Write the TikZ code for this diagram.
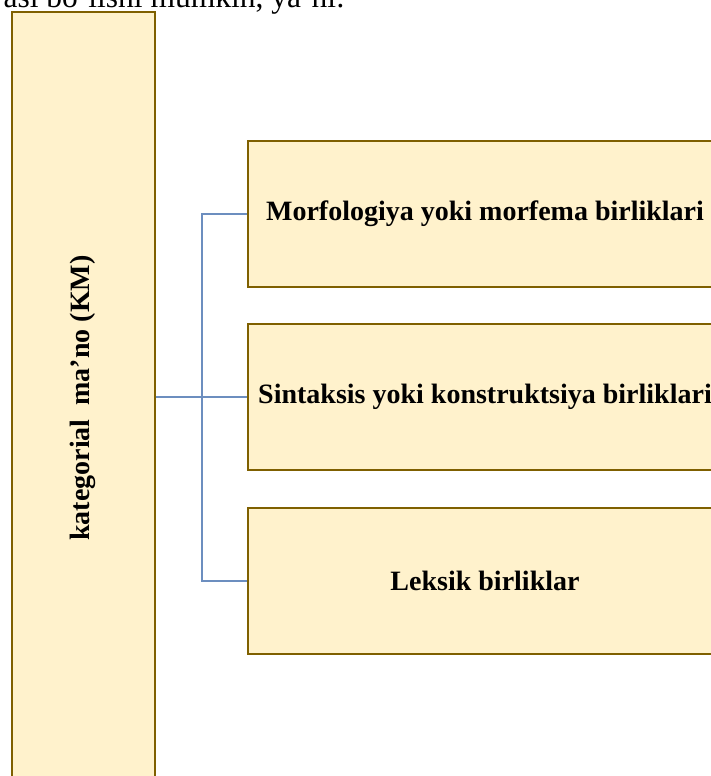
\documentclass[tikz,border=0pt]{standalone}
\usepackage{fontspec}
\setmainfont{Liberation Serif}

\definecolor{boxfill}{HTML}{FFF2CC}
\definecolor{boxline}{HTML}{7F6000}
\definecolor{linkline}{HTML}{6C8EBF}

\begin{document}
\begin{tikzpicture}[x=1pt,y=-1pt]
\tikzstyle{box}=[draw=boxline,fill=boxfill,line width=2pt,inner sep=0pt];
\tikzstyle{unit}=[box,minimum width=474pt,minimum height=146pt,font=\fontsize{28}{33}\selectfont\bfseries];
\tikzstyle{link}=[draw=linkline,line width=2pt];
\useasboundingbox (0,0) rectangle (711,776);
\clip (0,0) rectangle (711,776);

\path (345,8) node[anchor=base east,inner sep=0pt,font=\fontsize{31.5}{36}\selectfont] (intro) {asi bo‘lishi mumkin, ya’ni:};

\path (83,398) node[box,minimum width=143pt,minimum height=772pt] (km) {};
\path (83,398) node[rotate=90,inner sep=0pt,font=\fontsize{28}{33}\selectfont\bfseries] (kmtext) {kategorial\ \ ma’no (KM)};

\path (485,214) node[unit] (morf) {Morfologiya yoki morfema birliklari};
\path (485,397) node[unit] (sint) {Sintaksis yoki konstruktsiya birliklari};
\path (485,581) node[unit] (leks) {Leksik birliklar};

\coordinate (fork) at (202,397);
\draw[link] (km.east |- fork) -- (fork) |- (morf.west);
\draw[link] (fork) -- (sint.west);
\draw[link] (fork) |- (leks.west);
\end{tikzpicture}
\end{document}
